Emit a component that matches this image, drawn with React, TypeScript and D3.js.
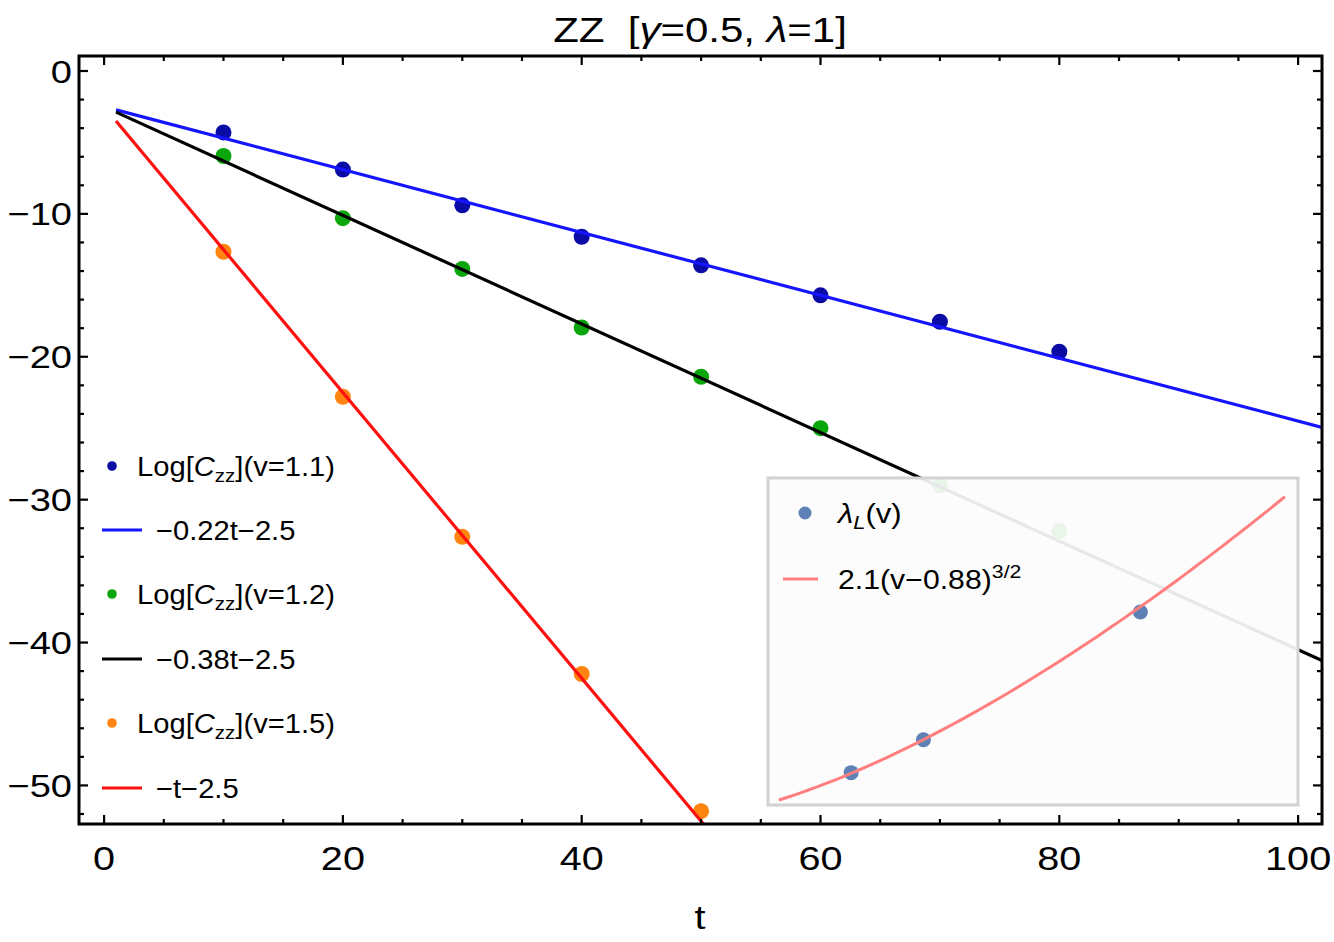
import * as d3 from 'd3';
import type { ReactNode } from 'react';

// measured log-correlator samples
const times = [10, 20, 30, 40, 50, 60, 70, 80];
const logCzzV11 = [-4.3, -6.9, -9.4, -11.6, -13.6, -15.7, -17.55, -19.65];
const logCzzV12 = [-5.95, -10.3, -13.85, -17.95, -21.4, -25.0, -29.0, -32.2];
const logCzzV15 = [-12.65, -22.8, -32.6, -42.2, -51.8];

// linear fits  a*t + b
const fitSlopes = [-0.22, -0.38, -1];
const fitIntercept = -2.5;
const fitLabels = ['\u22120.22t\u22122.5', '\u22120.38t\u22122.5', '\u2212t\u22122.5'];

// Lyapunov exponent vs velocity (inset)
const velocities = [1.1, 1.2, 1.5];
const lyapunov = [0.22, 0.38, 1.0];
const lyapFitCoef = 2.1;
const lyapFitShift = 0.88;

const xTicks = [0, 20, 40, 60, 80, 100];
const yTicks = [0, -10, -20, -30, -40, -50];

const W = 1334;
const H = 942;
const plot = { left: 79, right: 1322, top: 56, bottom: 824 };

const colors = {
  dots: ['#0b0ba6', '#0ba60b', '#ff8410'],
  lines: ['#1414ff', '#000000', '#ff1010'],
  insetDot: '#5e81b5',
  insetLine: '#ff7f7f',
};

const font = '"Liberation Sans", Arial, sans-serif';

// text drawn slightly wider than the font's natural width
function Label({
  x,
  y,
  size,
  sx = 1.2,
  anchor = 'start',
  dy,
  children,
}: {
  x: number;
  y: number;
  size: number;
  sx?: number;
  anchor?: 'start' | 'middle' | 'end';
  dy?: string;
  children: ReactNode;
}) {
  return (
    <g transform={`translate(${x},${y}) scale(${sx},1)`}>
      <text x={0} y={0} dy={dy} textAnchor={anchor} fontSize={size}>
        {children}
      </text>
    </g>
  );
}

export default function App() {
  const x = d3.scaleLinear().domain([-2.1, 102]).range([plot.left, plot.right]);
  const y = d3.scaleLinear().domain([-52.7, 1.05]).range([plot.bottom, plot.top]);

  const series = [
    times.map((t, i) => [t, logCzzV11[i]] as [number, number]),
    times.map((t, i) => [t, logCzzV12[i]] as [number, number]),
    times.slice(0, logCzzV15.length).map((t, i) => [t, logCzzV15[i]] as [number, number]),
  ];

  const fitLine = d3.line<number>().x((t) => x(t));
  const tSamples = [1, 102];

  const xMinor = d3.range(0, 101, 5);
  const yMinor = d3.range(0, -53, -2);

  // inset geometry
  const inset = { left: 768, right: 1298, top: 478, bottom: 805 };
  const ix = d3.scaleLinear().domain([0.985, 1.718]).range([inset.left, inset.right]);
  const iy = d3.scaleLinear().domain([0.063, 1.65]).range([inset.bottom, inset.top]);
  const vSamples = d3.range(1.0, 1.7001, 0.01);
  const lyapCurve = d3
    .line<number>()
    .x((v) => ix(v))
    .y((v) => iy(lyapFitCoef * Math.pow(v - lyapFitShift, 1.5)))
    .curve(d3.curveMonotoneX);

  const legendRows = [466, 530, 594, 659, 723, 788];
  const vLabels = ['1.1', '1.2', '1.5'];

  return (
    <svg
      width={W}
      height={H}
      style={{ position: 'absolute', left: 0, top: 0, background: '#fff' }}
      fontFamily={font}
    >
      <defs>
        <clipPath id="plotClip">
          <rect x={plot.left} y={plot.top} width={plot.right - plot.left} height={plot.bottom - plot.top} />
        </clipPath>
      </defs>

      {/* title */}
      <Label x={700} y={42} size={35} sx={1.2} anchor="middle">
        ZZ{'\u00a0\u00a0'}[<tspan fontStyle="italic">γ</tspan>=0.5, <tspan fontStyle="italic">λ</tspan>=1]
      </Label>

      {/* data points and fits */}
      <g clipPath="url(#plotClip)">
        {series.map((pts, si) =>
          pts.map(([t, v], i) => (
            <circle key={`p${si}-${i}`} cx={x(t)} cy={y(v)} r={8} fill={colors.dots[si]} />
          ))
        )}
        {fitSlopes.map((a, i) => (
          <path
            key={`f${i}`}
            d={fitLine.y((t) => y(a * t + fitIntercept))(tSamples) || ''}
            fill="none"
            stroke={colors.lines[i]}
            strokeWidth={3.2}
          />
        ))}
      </g>

      {/* ticks on all sides */}
      <g stroke="#000" strokeWidth={2.2}>
        {xMinor.map((t) => {
          const len = t % 20 === 0 ? 9 : 5;
          return (
            <g key={`xt${t}`}>
              <line x1={x(t)} x2={x(t)} y1={plot.bottom} y2={plot.bottom - len} />
              <line x1={x(t)} x2={x(t)} y1={plot.top} y2={plot.top + len} />
            </g>
          );
        })}
        {yMinor.map((v) => {
          const len = v % 10 === 0 ? 9 : 5;
          return (
            <g key={`yt${v}`}>
              <line x1={plot.left} x2={plot.left + len} y1={y(v)} y2={y(v)} />
              <line x1={plot.right} x2={plot.right - len} y1={y(v)} y2={y(v)} />
            </g>
          );
        })}
      </g>

      {/* frame */}
      <rect
        x={plot.left}
        y={plot.top}
        width={plot.right - plot.left}
        height={plot.bottom - plot.top}
        fill="none"
        stroke="#000"
        strokeWidth={3}
      />

      {/* tick labels */}
      {xTicks.map((t) => (
        <Label key={`xl${t}`} x={x(t)} y={870} size={33} anchor="middle">
          {t}
        </Label>
      ))}
      {yTicks.map((v) => (
        <Label key={`yl${v}`} x={72} y={y(v)} size={32} sx={1.19} anchor="end" dy="0.36em">
          {v < 0 ? `\u2212${-v}` : v}
        </Label>
      ))}
      <Label x={700} y={929} size={33} anchor="middle">
        t
      </Label>

      {/* legend */}
      {vLabels.map((lab, i) => (
        <g key={`lg${i}`}>
          <circle cx={112} cy={legendRows[2 * i]} r={4.8} fill={colors.dots[i]} />
          <Label x={137} y={legendRows[2 * i]} size={27} sx={1.08} dy="0.36em">
            Log[<tspan fontStyle="italic">C</tspan>
            <tspan fontSize={19} dy={6}>zz</tspan>
            <tspan dy={-6}>](v={lab})</tspan>
          </Label>
          <line
            x1={102}
            x2={142}
            y1={legendRows[2 * i + 1]}
            y2={legendRows[2 * i + 1]}
            stroke={colors.lines[i]}
            strokeWidth={3.2}
          />
          <Label x={156} y={legendRows[2 * i + 1]} size={27} sx={1.08} dy="0.36em">
            {fitLabels[i]}
          </Label>
        </g>
      ))}

      {/* inset: Lyapunov exponent */}
      <rect
        x={inset.left}
        y={inset.top}
        width={inset.right - inset.left}
        height={inset.bottom - inset.top}
        fill="#fcfcfc"
        fillOpacity={0.92}
        stroke="#d2d2d2"
        strokeWidth={3}
      />
      {velocities.map((v, i) => (
        <circle key={`ip${i}`} cx={ix(v)} cy={iy(lyapunov[i])} r={7.5} fill={colors.insetDot} />
      ))}
      <path d={lyapCurve(vSamples) || ''} fill="none" stroke={colors.insetLine} strokeWidth={3} />

      <circle cx={805} cy={513} r={6.5} fill={colors.insetDot} />
      <Label x={838} y={513} size={27} sx={1.15} dy="0.36em">
        <tspan fontStyle="italic">λ</tspan>
        <tspan fontStyle="italic" fontSize={19} dy={6}>L</tspan>
        <tspan dy={-6}>(v)</tspan>
      </Label>
      <line x1={783} x2={818} y1={579} y2={579} stroke={colors.insetLine} strokeWidth={3} />
      <Label x={838} y={579} size={27} sx={1.12} dy="0.36em">
        2.1(v{'\u2212'}0.88)
        <tspan fontSize={19} dy={-11}>3/2</tspan>
      </Label>
    </svg>
  );
}
